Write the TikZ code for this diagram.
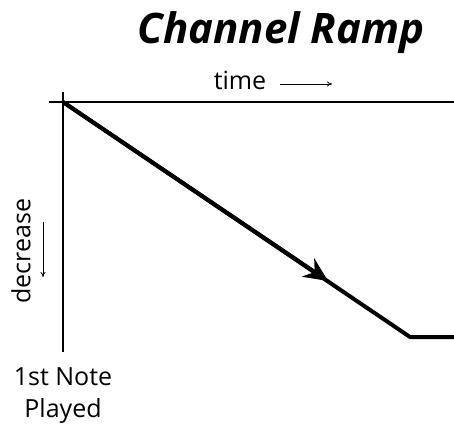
\documentclass[tikz,border=0pt]{standalone}
\usepackage{fontspec}
\setmainfont{Open Sans}
\usetikzlibrary{arrows.meta}

\begin{document}
\begin{tikzpicture}[x=1pt,y=-1pt,
    axis/.style={line width=2pt},
    ramp/.style={line width=4pt},
    hint/.style={line width=0.8pt,-{To[length=5pt,width=5pt]}},
    lbl/.style={font=\fontsize{25}{32}\selectfont, inner sep=0pt}]
    \useasboundingbox (0,0) rectangle (454,430);

    \coordinate (o) at (63,102);
    \coordinate (knee) at (410,337);
    \coordinate (mid) at (328,281);
    \coordinate (end) at (454,337);

    \node[font=\fontsize{42}{50}\selectfont\bfseries\itshape, anchor=base] (title) at (281,44) {Channel Ramp};

    % axes
    \draw[axis] (49,102) -- (454,102);
    \draw[axis] (63,92) -- (63,352);

    % ramp, with its arrow tip laid on top
    \draw[ramp] (o) -- (knee) -- (end);
    \draw[ramp,-{Stealth[length=24pt,width=22pt,inset=8pt]}] (o) -- (mid);

    \node[lbl] (time) at (240,80) {time};
    \draw[hint] (280,84) -- (332,84);

    \node[lbl, rotate=90] (dec) at (21,251) {decrease};
    \draw[hint] (43,222) -- (43,277);

    \node[lbl, align=center] (first) at (63,396) {1st Note\\Played};
\end{tikzpicture}
\end{document}
